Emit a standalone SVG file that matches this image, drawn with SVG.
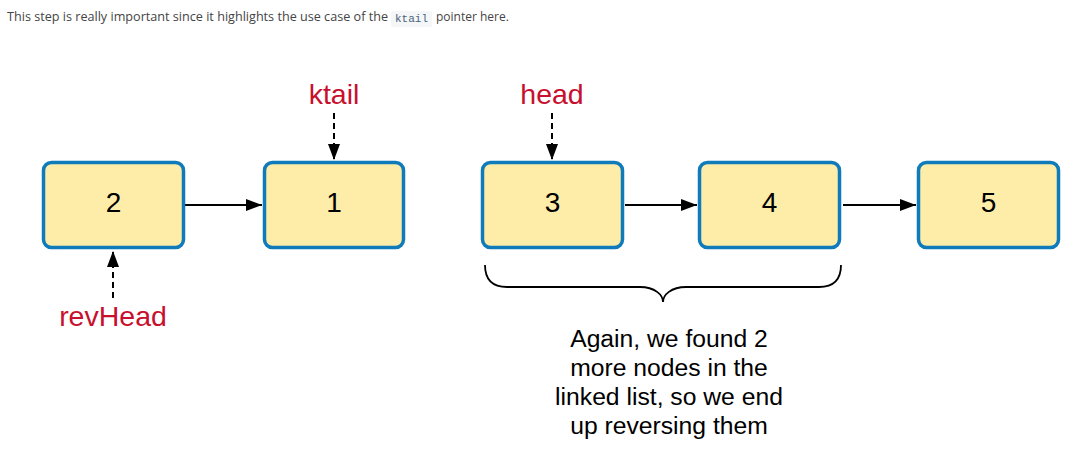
<svg xmlns="http://www.w3.org/2000/svg" width="1089" height="461" viewBox="0 0 1089 461">
<defs>
<style>
.node rect{fill:#FEEDA9;stroke:#0F7BBA;stroke-width:3.5}
.num{font-family:"Liberation Sans",Arial,sans-serif;font-size:28px;fill:#000;text-anchor:middle}
.lbl{font-family:"Liberation Sans",Arial,sans-serif;font-size:28.5px;fill:#C8102E;text-anchor:middle}
.edge{stroke:#000;stroke-width:1.8;fill:none}
.ptr{stroke:#000;stroke-width:2;fill:none;stroke-dasharray:6,4}
.hdr{font-family:"Open Sans","Noto Sans",sans-serif;font-size:12px;fill:#444}
.note{font-family:"Liberation Sans",Arial,sans-serif;font-size:24.7px;fill:#000;text-anchor:middle}
</style>
<marker id="ah" viewBox="0 0 16 12" refX="16" refY="6" markerWidth="16" markerHeight="12" markerUnits="userSpaceOnUse" orient="auto">
<path d="M0,0 L16,6 L0,12 Z" fill="#000"/>
</marker>
</defs>
<rect width="1089" height="461" fill="#fff"/>
<g id="header">
<text class="hdr" x="7" y="21" textLength="381" lengthAdjust="spacingAndGlyphs" style="font-size:12.6px">This step is really important since it highlights the use case of the</text>
<rect x="391" y="11" width="41" height="16" rx="2" fill="#F4F6F8"/>
<text x="395" y="22" font-family="'Liberation Mono','DejaVu Sans Mono',monospace" font-size="11px" fill="#4A6278">ktail</text>
<text class="hdr" x="436" y="21">pointer here.</text>
</g>
<g id="connectors">
<line class="edge" x1="185" y1="205" x2="262" y2="205" marker-end="url(#ah)"/>
<line class="edge" x1="625" y1="205" x2="697" y2="205" marker-end="url(#ah)"/>
<line class="edge" x1="843" y1="205" x2="916" y2="205" marker-end="url(#ah)"/>
<line class="ptr" x1="334" y1="113" x2="334" y2="160" marker-end="url(#ah)"/>
<line class="ptr" x1="552" y1="113" x2="552" y2="160" marker-end="url(#ah)"/>
<line class="ptr" x1="113" y1="298" x2="113" y2="251" marker-end="url(#ah)"/>
<path class="edge" d="M485,265 C485,280 492,287 507,287 L640,287 C655,287 663,295 663,302 C663,295 671,287 686,287 L819,287 C834,287 841,280 841,265" stroke-width="2"/>
</g>
<g id="node2" class="node"><rect x="43.5" y="162.5" width="140" height="85" rx="8"/><text class="num" x="113.5" y="212">2</text></g>
<g id="node1" class="node"><rect x="264.5" y="162.5" width="139" height="85" rx="8"/><text class="num" x="334" y="212">1</text></g>
<g id="node3" class="node"><rect x="482.5" y="162.5" width="140" height="85" rx="8"/><text class="num" x="552.5" y="212">3</text></g>
<g id="node4" class="node"><rect x="699.5" y="162.5" width="140" height="85" rx="8"/><text class="num" x="769.5" y="212">4</text></g>
<g id="node5" class="node"><rect x="918.5" y="162.5" width="140" height="85" rx="8"/><text class="num" x="988.5" y="212">5</text></g>
<g id="ktail"><text class="lbl" x="334" y="104">ktail</text></g>
<g id="head"><text class="lbl" x="552" y="104">head</text></g>
<g id="revHead"><text class="lbl" x="113" y="326">revHead</text></g>
<g id="note">
<text class="note" x="669" y="347">Again, we found 2</text>
<text class="note" x="669" y="376">more nodes in the</text>
<text class="note" x="669" y="405">linked list, so we end</text>
<text class="note" x="669" y="434">up reversing them</text>
</g>
</svg>
